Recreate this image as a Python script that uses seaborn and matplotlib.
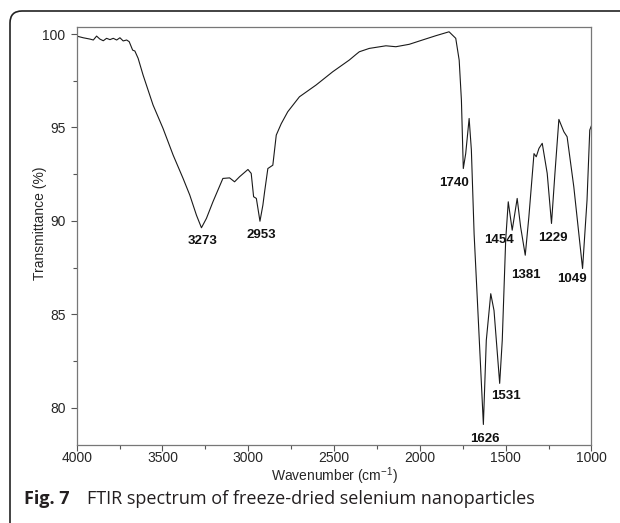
import numpy as np
import pandas as pd
import matplotlib
matplotlib.use('Agg')
import matplotlib.pyplot as plt
import seaborn as sns
from matplotlib.patches import FancyBboxPatch
from matplotlib.transforms import IdentityTransform
from matplotlib.ticker import MultipleLocator

# ========== 1. data ==========
wavenumber = [4000, 3962, 3923, 3903, 3884, 3865, 3845, 3826, 3806, 3787, 3767,
              3748, 3729, 3709, 3694, 3674, 3661, 3642, 3613, 3555, 3497, 3438,
              3380, 3341, 3302, 3273, 3244, 3206, 3148, 3109, 3080, 3051, 3002,
              2983, 2969, 2953, 2932, 2915, 2905, 2886, 2857, 2837, 2808, 2770,
              2702, 2605, 2508, 2411, 2372, 2353, 2295, 2198, 2140, 2062, 1985,
              1907, 1830, 1791, 1771, 1758, 1747, 1733, 1713, 1700, 1684, 1665,
              1630, 1613, 1587, 1568, 1535, 1520, 1500, 1485, 1462, 1433, 1413,
              1386, 1365, 1335, 1322, 1306, 1287, 1258, 1233, 1213, 1190, 1161,
              1142, 1103, 1052, 1026, 1010, 1000]
transmittance = [99.89, 99.80, 99.73, 99.68, 99.89, 99.73, 99.64, 99.77, 99.70, 99.77, 99.68,
                 99.80, 99.63, 99.68, 99.59, 99.14, 99.09, 98.70, 97.80, 96.20, 94.95, 93.52,
                 92.27, 91.38, 90.30, 89.63, 90.13, 91.02, 92.27, 92.30, 92.09, 92.36, 92.75,
                 92.54, 91.29, 91.20, 89.98, 90.84, 91.55, 92.80, 92.98, 94.59, 95.20, 95.84,
                 96.64, 97.27, 97.98, 98.61, 98.91, 99.05, 99.23, 99.37, 99.32, 99.45, 99.68,
                 99.91, 100.12, 99.77, 98.60, 96.46, 92.80, 93.60, 95.48, 93.80, 89.30, 85.75,
                 79.10, 83.60, 86.10, 85.20, 81.30, 83.60, 88.97, 91.02, 89.50, 91.20, 89.68,
                 88.16, 90.20, 93.60, 93.43, 93.88, 94.15, 92.54, 89.86, 92.54, 95.43, 94.77,
                 94.50, 91.82, 87.45, 91.10, 94.86, 95.10]

peak_labels = ['3273', '2953', '1740', '1454', '1229', '1381', '1049', '1531', '1626']
label_x = [3268, 2924, 1800, 1539, 1225, 1384, 1113, 1497, 1620]
label_y = [88.93, 89.23, 92.04, 89.00, 89.10, 87.09, 86.91, 80.61, 78.32]

df = pd.DataFrame({'wn': wavenumber, 'T': transmittance})

# ========== 2. style ==========
sns.set_style('white')
plt.rcParams['font.family'] = ['Liberation Sans', 'DejaVu Sans']
plt.rcParams['mathtext.fontset'] = 'custom'
plt.rcParams['mathtext.rm'] = 'Liberation Sans'
plt.rcParams['mathtext.it'] = 'Liberation Sans'

fig = plt.figure(figsize=(6.2, 5.23), dpi=100)
ax = fig.add_axes([0.1237, 0.1491, 0.954 - 0.1237, 0.9478 - 0.1491])

# ========== 3. spectrum ==========
sns.lineplot(data=df, x='wn', y='T', ax=ax, sort=False, estimator=None,
             color='#1a1a1a', linewidth=0.8)

ax.set_xlim(4000, 1000)
ax.set_ylim(78, 100.36)
ax.xaxis.set_major_locator(MultipleLocator(500))
ax.xaxis.set_minor_locator(MultipleLocator(250))
ax.yaxis.set_major_locator(MultipleLocator(5))
ax.yaxis.set_minor_locator(MultipleLocator(2.5))
ax.tick_params(which='major', direction='out', length=4, width=0.8,
               color='#555555', labelsize=10, pad=4, bottom=True, left=True)
ax.tick_params(which='minor', direction='out', length=3, width=0.8,
               color='#555555', bottom=True, left=True)
ax.tick_params(axis='x', which='major', pad=0)
for sp in ax.spines.values():
    sp.set_color('#777777')
    sp.set_linewidth(0.9)

ax.set_xlabel('Wavenumber (cm$^{-1}$)', fontsize=10)
ax.set_ylabel('Transmittance (%)', fontsize=10)
ax.xaxis.set_label_coords(0.5, -0.049)
ax.yaxis.set_label_coords(-0.057, 0.53)

for txt, x, y in zip(peak_labels, label_x, label_y):
    ax.text(x, y, txt, ha='center', va='center', fontsize=9.5,
            fontweight='bold', color='#111111')

# ========== 4. caption and frame ==========
fig.text(24 / 620, 1 - 499 / 523, 'Fig. 7', fontsize=13, fontweight='bold',
         family=['Open Sans', 'DejaVu Sans'], ha='left', va='center', color='#231f20')
fig.text(87 / 620, 1 - 499 / 523,
         'FTIR spectrum of freeze-dried selenium nanoparticles', fontsize=13,
         family=['Open Sans', 'DejaVu Sans'], ha='left', va='center', color='#231f20')

border = FancyBboxPatch((10, -60), 700, 523 - 11 + 60,
                        boxstyle='round,pad=0,rounding_size=12',
                        transform=IdentityTransform(), fill=False,
                        edgecolor='#222222', linewidth=1.2)
fig.patches.append(border)

fig.savefig('out.png', dpi=100)
